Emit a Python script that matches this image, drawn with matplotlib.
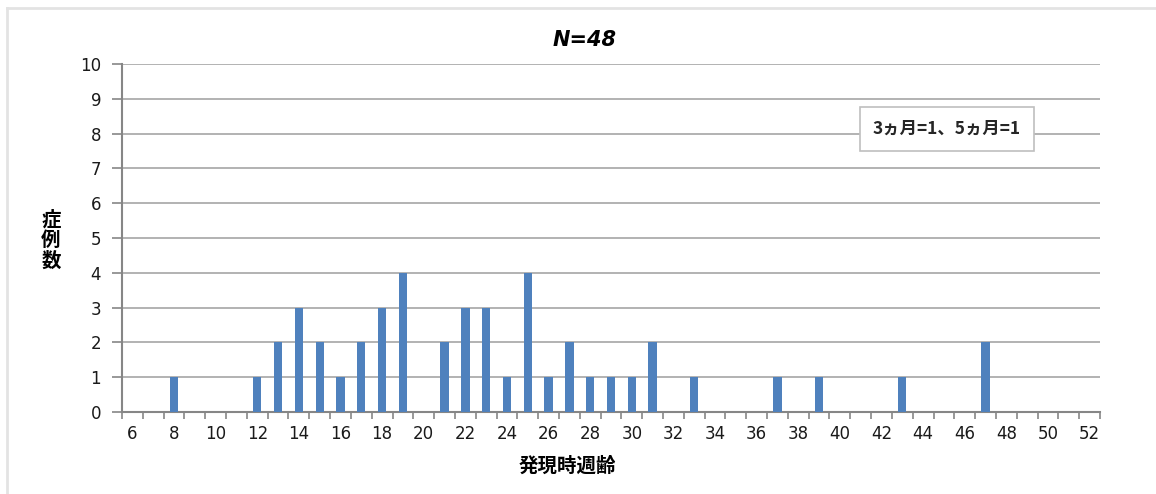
import matplotlib.pyplot as plt
from matplotlib.lines import Line2D
import numpy as np

plt.rcParams['font.family'] = ['Noto Sans CJK JP', 'DejaVu Sans']

# 発現時週齢 (weeks) and number of cases
weeks = list(range(6, 53))
case_counts = {8: 1, 12: 1, 13: 2, 14: 3, 15: 2, 16: 1, 17: 2, 18: 3, 19: 4,
               21: 2, 22: 3, 23: 3, 24: 1, 25: 4, 26: 1, 27: 2, 28: 1, 29: 1,
               30: 1, 31: 2, 33: 1, 37: 1, 39: 1, 43: 1, 47: 2}
counts = [case_counts.get(w, 0) for w in weeks]
tick_labels = [str(w) for w in range(6, 53, 2)]
title = 'N=48'
note = '3ヵ月=1、5ヵ月=1'

fig = plt.figure(figsize=(11.56, 4.94), dpi=100)
ax = fig.add_axes([122 / 1156, 82 / 494, 978 / 1156, 348 / 494])

ax.bar(weeks, counts, width=0.4, color='#4F81BD', zorder=3)

ax.set_xlim(5.5, 52.5)
ax.set_ylim(0, 10)
ax.set_yticks(range(0, 11))
ax.yaxis.grid(True, color='#A6A6A6', linewidth=1.2, zorder=0)

ax.set_xticks(range(6, 53, 2))
ax.set_xticklabels(tick_labels)
ax.set_xticks(np.arange(5.5, 53, 1), minor=True)
ax.tick_params(axis='x', which='major', length=0, pad=9, labelsize=12)
ax.tick_params(axis='x', which='minor', length=5, width=1.2, color='#868686')
ax.tick_params(axis='y', length=7, width=1.2, color='#868686', labelsize=12, pad=8)
for lbl in ax.get_xticklabels() + ax.get_yticklabels():
    lbl.set_family('DejaVu Sans')
    lbl.set_color('#1a1a1a')

for side in ['top', 'right']:
    ax.spines[side].set_visible(False)
for side in ['left', 'bottom']:
    ax.spines[side].set_color('#868686')
    ax.spines[side].set_linewidth(1.5)

fig.text(585 / 1156, 1 - 40 / 494, title, ha='center', va='center',
         fontsize=15, fontweight='bold', fontstyle='italic', family='DejaVu Sans')
fig.text(51 / 1156, 1 - 240 / 494, '症\n例\n数', ha='center', va='center',
         fontsize=14, fontweight='bold', linespacing=1.1)
fig.text(567 / 1156, 1 - 466 / 494, '発現時週齢', ha='center', va='center',
         fontsize=14, fontweight='bold')
fig.text(947 / 1156, 1 - 129 / 494, note, ha='center', va='center', fontsize=12.5,
         color='#262626', fontweight='bold',
         bbox=dict(boxstyle='square,pad=0.75', facecolor='white', edgecolor='#BFBFBF',
                   linewidth=1.2))

# outer chart frame
fig.add_artist(Line2D([7 / 1156, 7 / 1156], [0, 1 - 8 / 494], transform=fig.transFigure,
                      color='#E3E3E3', linewidth=2))
fig.add_artist(Line2D([7 / 1156, 1], [1 - 8 / 494, 1 - 8 / 494], transform=fig.transFigure,
                      color='#E3E3E3', linewidth=2))

fig.savefig('out.png', dpi=100)
